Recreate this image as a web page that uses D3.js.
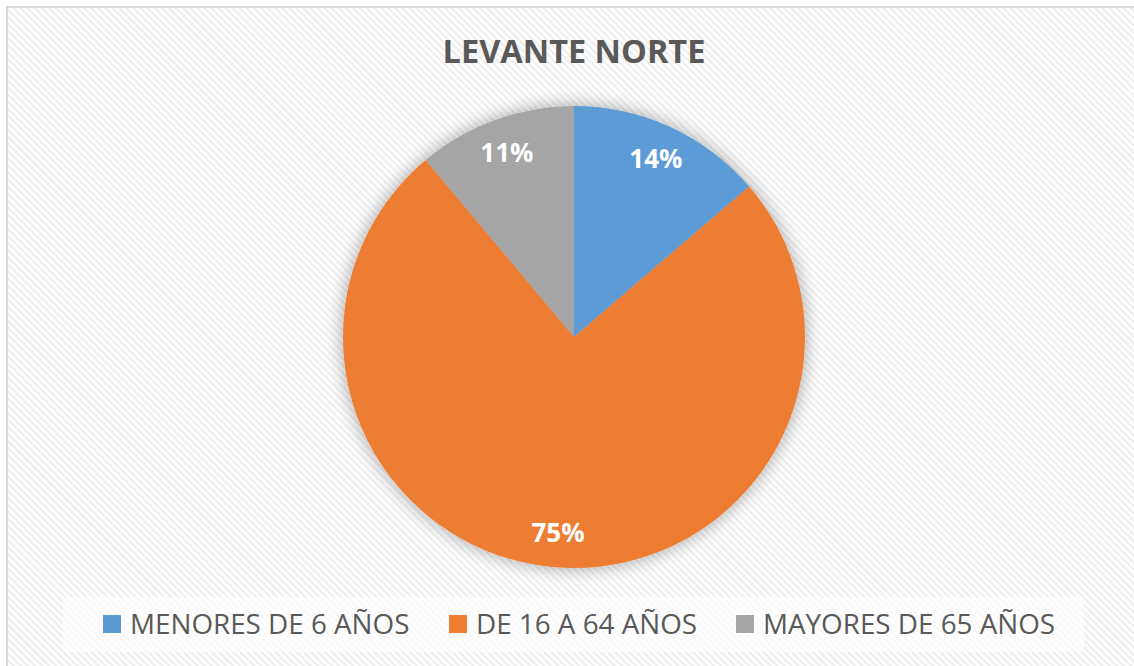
<!DOCTYPE html>
<html><head><meta charset="utf-8">
<script src="https://cdn.jsdelivr.net/npm/d3@7"></script>
<style>html,body{margin:0;padding:0;background:#fff;overflow:hidden}</style>
</head><body>
<svg id="chart" width="1134" height="666"></svg>
<script>
const title = "LEVANTE NORTE";
const categories = ["MENORES DE 6 AÑOS", "DE 16 A 64 AÑOS", "MAYORES DE 65 AÑOS"];
const values = [13.7, 75.2, 11.1];
const colors = ["#5B9BD5", "#ED7D31", "#A5A5A5"];

const W = 1134, H = 666;
const svg = d3.select("#chart");
const defs = svg.append("defs");
const pat = defs.append("pattern").attr("id","hatch").attr("patternUnits","userSpaceOnUse")
  .attr("width",5).attr("height",5).attr("patternTransform","rotate(45)");
pat.append("rect").attr("width",5).attr("height",5).attr("fill","#ffffff");
pat.append("rect").attr("width",5).attr("height",2.4).attr("fill","#efefef");

const f = defs.append("filter").attr("id","glow").attr("x","-20%").attr("y","-20%").attr("width","140%").attr("height","140%");
f.append("feGaussianBlur").attr("in","SourceAlpha").attr("stdDeviation",9).attr("result","b");
f.append("feComponentTransfer").attr("in","b").attr("result","c")
  .append("feFuncA").attr("type","linear").attr("slope",0.35);
const m = f.append("feMerge");
m.append("feMergeNode").attr("in","c");
m.append("feMergeNode").attr("in","SourceGraphic");

svg.append("rect").attr("x",0).attr("y",0).attr("width",W).attr("height",H).attr("fill","#fff");
svg.append("rect").attr("x",7).attr("y",7).attr("width",W+20).attr("height",H+20)
  .attr("fill","url(#hatch)").attr("stroke","#d9d9d9").attr("stroke-width",2);

const font = "'Open Sans', 'Noto Sans', sans-serif";
svg.append("text").attr("x",574).attr("y",63).attr("text-anchor","middle")
  .attr("font-family",font).attr("font-weight","bold").attr("font-size",32.5)
  .attr("fill","#595959").text(title);

const cx = 574, cy = 337, R = 231;
const pie = d3.pie().sort(null).value(d => d)(values);
const arc = d3.arc().innerRadius(0).outerRadius(R);
const labelArc = d3.arc().innerRadius(R*0.85).outerRadius(R*0.85);
const total = d3.sum(values);
const g = svg.append("g").attr("transform",`translate(${cx},${cy})`);
g.append("g").attr("filter","url(#glow)").selectAll("path").data(pie).join("path")
  .attr("d",arc).attr("fill",(d,i)=>colors[i]);
g.selectAll("text").data(pie).join("text")
  .attr("transform",d=>`translate(${labelArc.centroid(d)})`)
  .attr("text-anchor","middle").attr("dy","0.36em")
  .attr("font-family",font).attr("font-weight","bold").attr("font-size",26)
  .attr("fill","#fff").text(d=>Math.round(d.value/total*100)+"%");

// legend
svg.append("rect").attr("x",63).attr("y",597).attr("width",1021).attr("height",55)
  .attr("fill","#ffffff").attr("fill-opacity",0.65);
const legX = [103, 449, 736];
const lg = svg.append("g").selectAll("g").data(categories).join("g")
  .attr("transform",(d,i)=>`translate(${legX[i]},0)`);
lg.append("rect").attr("x",0).attr("y",615).attr("width",18).attr("height",18).attr("fill",(d,i)=>colors[i]);
lg.append("text").attr("x",27).attr("y",634).attr("font-family",font).attr("font-size",27.8)
  .attr("fill","#595959").text(d=>d);
</script>
</body></html>
